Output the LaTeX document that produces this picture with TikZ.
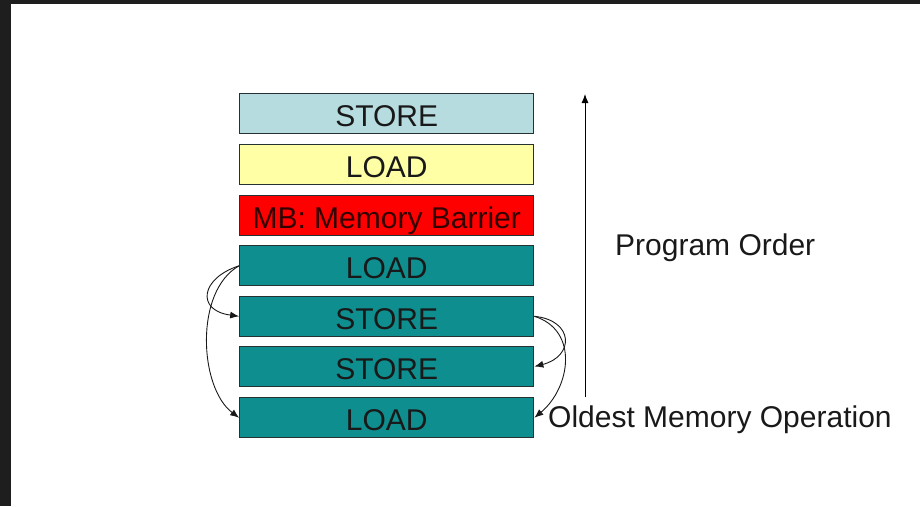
\documentclass[tikz,border=0pt]{standalone}
\usepackage{fontspec}
\setmainfont{Liberation Sans}
\usetikzlibrary{arrows.meta}
\definecolor{frame}{HTML}{1E1E1E}
\definecolor{stbox}{HTML}{B7DCE0}
\definecolor{ldbox}{HTML}{FFFFA6}
\definecolor{mbbox}{HTML}{FF0000}
\definecolor{qbox}{HTML}{0E8E8E}
\definecolor{edge}{HTML}{263232}
\tikzset{
  op/.style={draw=edge, line width=1.2pt, minimum width=294pt, minimum height=40pt,
    inner sep=0pt, text height=25.5pt, text depth=0pt,
    font=\fontsize{30}{30}\selectfont, text=black!90},
  dep/.style={-{Latex[length=9pt,width=7pt]}, line width=0.9pt, black!90},
  lbl/.style={anchor=west, inner sep=0pt, font=\fontsize{30}{30}\selectfont, text=black!90}
}
\begin{document}
\begin{tikzpicture}[x=1pt, y=-1pt]
  \useasboundingbox (0,0) rectangle (920,506);
  % dark window frame along the top and left edges
  \fill[frame] (0,0) rectangle (920,4);
  \fill[frame] (0,0) rectangle (11,506);

  % queue of memory operations, newest on top
  \node[op, fill=stbox] (s1) at (386.75,113.8) {STORE};
  \node[op, fill=ldbox] (l2) at (386.75,164.6) {LOAD};
  \node[op, fill=mbbox, text=black!80!red] (mb) at (386.75,215.3) {MB: Memory Barrier};
  \node[op, fill=qbox] (l4) at (386.75,265.8) {LOAD};
  \node[op, fill=qbox] (s5) at (386.75,316.3) {STORE};
  \node[op, fill=qbox] (s6) at (386.75,366.5) {STORE};
  \node[op, fill=qbox] (l7) at (386.75,417.8) {LOAD};

  % program order axis
  \coordinate (pbot) at (585,397);
  \coordinate (ptop) at (585,94);
  \draw[-{Latex[length=9pt,width=7pt]}, line width=0.9pt] (pbot) -- (ptop);
  \node[lbl] (po) at (615,248) {Program Order};
  \node[lbl] (old) at (548,420) {Oldest Memory Operation};

  % reordering arcs on the left
  \draw[dep] (l4.west) .. controls +(-38,12) and +(-44,-6) .. (s5.west);
  \draw[dep] (l4.west) .. controls +(-45,25) and +(-40,-30) .. (l7.west);

  % reordering arcs on the right
  \draw[dep] (s5.east) .. controls +(40,4) and +(40,-10) .. (s6.east);
  \draw[dep] (s5.east) .. controls +(45,14) and +(36,-30) .. (l7.east);
\end{tikzpicture}
\end{document}
